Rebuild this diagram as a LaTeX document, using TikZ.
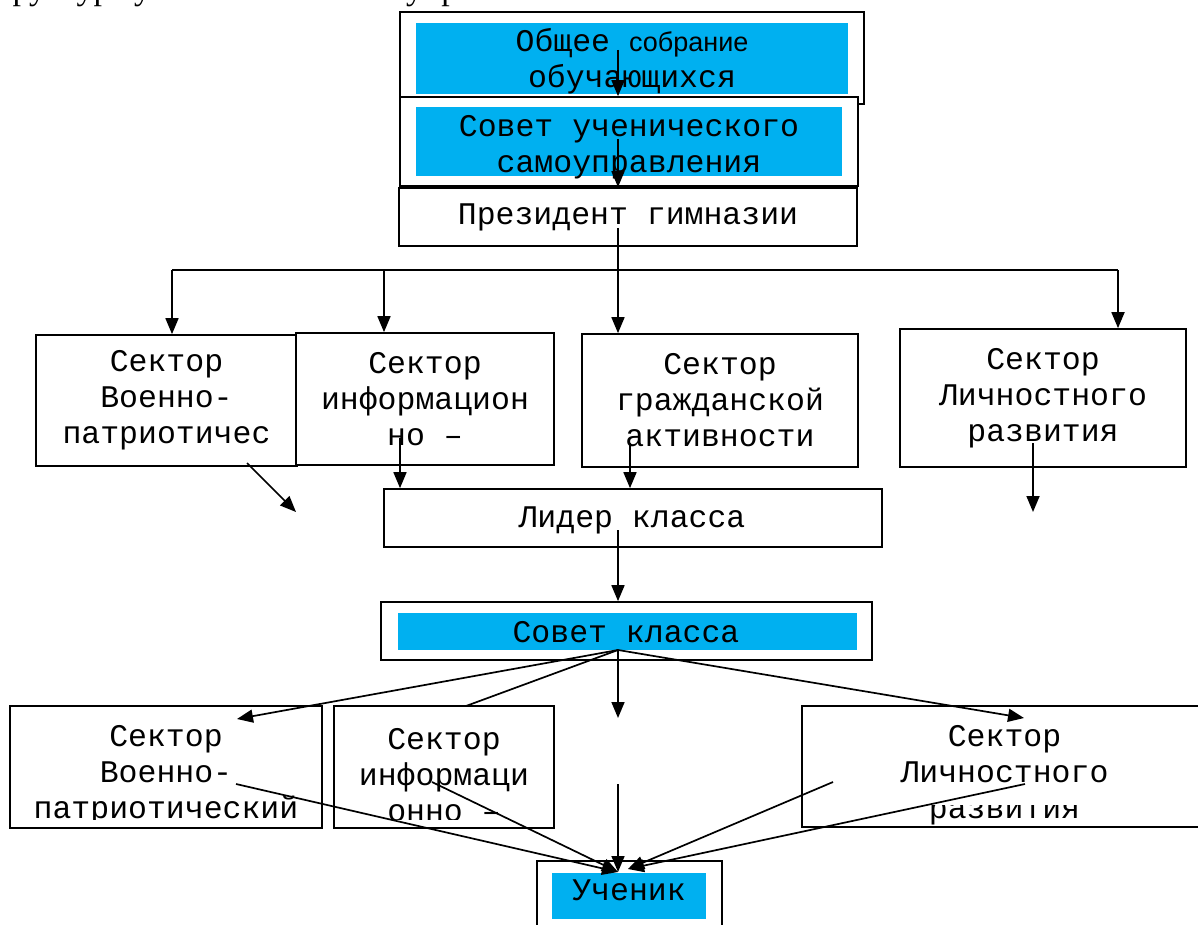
\documentclass[tikz,border=0pt]{standalone}
\usepackage{fontspec}
\setmainfont{Liberation Serif}
\setmonofont{Liberation Mono}
\setsansfont{Liberation Sans}
\usepackage{xcolor}
\usetikzlibrary{arrows, arrows.meta}
\definecolor{cellblue}{RGB}{0,176,240}
\newcommand{\boxfont}{\fontsize{31.5}{36}\selectfont\ttfamily}

\begin{document}
\begin{tikzpicture}[x=1pt, y=-1pt]
\tikzstyle{box}=[draw, rectangle, line width=1.7pt, fill=white, inner sep=0pt, align=center, font=\boxfont]
\tikzstyle{inbox}=[fill=cellblue, rectangle, inner sep=0pt]
\tikzstyle{txt}=[inner sep=0pt, align=center, font=\boxfont]
\tikzstyle{arr}=[line width=1.7pt, -{Triangle[length=16pt, width=13pt]}]
\tikzstyle{ln}=[line width=1.7pt]
\useasboundingbox (0,0) rectangle (1198,925);
\clip (0,0) rectangle (1198,925);

\node[anchor=base east, font=\fontsize{34}{40}\selectfont] (title) at (586,-0.5) {Структура ученического самоуправления:};

\node[box, minimum width=464, minimum height=92] (obsh) at (632,58) {};
\node[inbox, minimum width=432, minimum height=71] (obshIn) at (632,58.5) {};
\node[txt] (obshT) at (632,61) {Общее {\sffamily\fontsize{27}{36}\selectfont собрание}\\обучающихся};
\node[box, minimum width=458, minimum height=89] (sovUch) at (629,141.5) {};
\node[inbox, minimum width=426, minimum height=69] (sovUchIn) at (629,141.5) {};
\node[txt] (sovUchT) at (629,147) {Совет ученического\\самоуправления};
\node[box, minimum width=458, minimum height=58] (pres) at (628,217) {Президент гимназии};

\node[box, minimum width=261, minimum height=131] (sekVP) at (166.5,400.5) {Сектор\\Военно-\\патриотичес};
\node[box, minimum width=258, minimum height=132] (sekInf) at (425,399) {Сектор\\информацион\\но –};
\node[box, minimum width=276, minimum height=133] (sekGr) at (720,400.5) {Сектор\\гражданской\\активности};
\node[box, minimum width=286, minimum height=138] (sekLR) at (1043,398) {Сектор\\Личностного\\развития};

\node[box, minimum width=498, minimum height=58] (lider) at (633,518) {};
\node[txt] (liderT) at (632,520) {Лидер класса};
\node[box, minimum width=491, minimum height=58] (sovKl) at (626.5,631) {};
\node[inbox, minimum width=459, minimum height=37] (sovKlIn) at (627.5,631.5) {};
\node[txt] (sovKlT) at (626,632) {Совет класса};

\node[box, minimum width=312, minimum height=122] (sekVPb) at (166,767) {};
\node[txt] (sekVPbT) at (166,775) {Сектор\\Военно-\\патриотический};
\node[box, minimum width=220, minimum height=122] (sekInfb) at (444,767) {};
\node[txt] (sekInfbT) at (444,775) {Сектор\\информаци\\онно –};
\node[box, minimum width=405, minimum height=121] (sekLRb) at (1004.5,766.5) {};
\node[txt] (sekLRbT) at (1004.5,775) {Сектор\\Личностного\\развития};
\fill[white] (12,820) rectangle (320,826);
\fill[white] (336,820) rectangle (552,826);
\fill[white] (804,795) rectangle (1196,805);

\node[box, minimum width=185, minimum height=84] (uch) at (629.5,903) {};
\node[inbox, minimum width=154, minimum height=46] (uchIn) at (629,896) {};
\node[txt] (uchT) at (629,890) {Ученик};

\coordinate (s1) at (618,50);
\coordinate (s2) at (618,139);
\coordinate (s3) at (618,228);
\coordinate (busL) at (172,270);
\coordinate (busI) at (384,270);
\coordinate (busR) at (1118,270);
\draw[arr] (s1) -- (s1 |- sovUch.north);
\draw[arr] (s2) -- (s2 |- pres.north);
\draw[arr] (s3) -- (s3 |- sekGr.north);
\draw[ln] (busL) -- (busR);
\draw[arr] (busL) -- (busL |- sekVP.north);
\draw[arr] (busI) -- (busI |- sekInf.north);
\draw[arr] (busR) -- (busR |- sekLR.north);

\coordinate (d1) at (247,463);
\coordinate (d1e) at (296,512);
\coordinate (d2) at (400,438);
\coordinate (d3) at (630,443);
\coordinate (d4) at (1033,443);
\coordinate (d4e) at (1033,512);
\draw[arr] (d1) -- (d1e);
\draw[arr] (d2) -- (d2 |- lider.north);
\draw[arr] (d3) -- (d3 |- lider.north);
\draw[arr] (d4) -- (d4e);

\coordinate (l1) at (618,530);
\draw[arr] (l1) -- (l1 |- sovKl.north);

\coordinate (apex) at (618,650);
\coordinate (f1) at (237,719);
\coordinate (f2) at (466,706);
\coordinate (f3) at (618,718);
\coordinate (f4) at (1024,718);
\draw[arr] (apex) -- (f1);
\draw[ln] (apex) -- (f2);
\draw[arr] (apex) -- (f3);
\draw[arr] (apex) -- (f4);

\coordinate (g1) at (236,784);
\coordinate (g2) at (432,782);
\coordinate (g3) at (618,784);
\coordinate (g4) at (833,782);
\coordinate (g5) at (1025,784);
\coordinate (u0) at (618,872);
\coordinate (u1) at (628,869);
\draw[arr] (g1) -- (u0);
\draw[arr] (g2) -- (u0);
\draw[arr] (g3) -- (u0);
\draw[arr] (g4) -- (u1);
\draw[arr] (g5) -- (u1);
\end{tikzpicture}
\end{document}
